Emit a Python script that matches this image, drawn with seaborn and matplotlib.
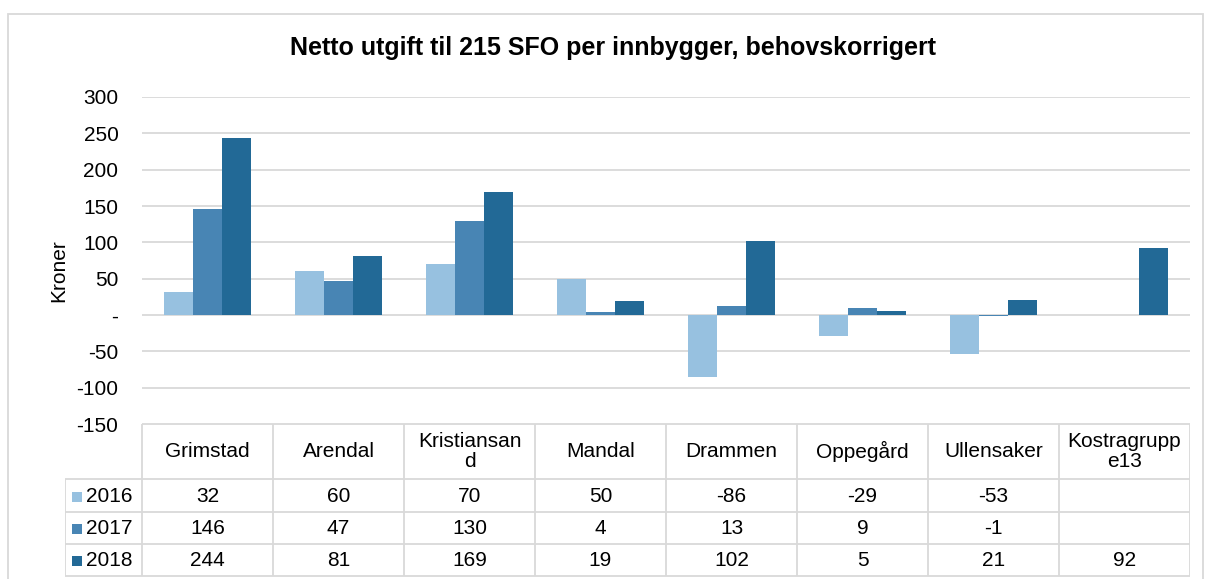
import numpy as np
import pandas as pd
import seaborn as sns
import matplotlib.pyplot as plt
from matplotlib.patches import Rectangle

# data
kommuner = ['Grimstad', 'Arendal', 'Kristiansand', 'Mandal', 'Drammen',
            'Oppegård', 'Ullensaker', 'Kostragruppe13']
kommune_labels = ['Grimstad', 'Arendal', 'Kristiansan\nd', 'Mandal', 'Drammen',
                  'Oppegård', 'Ullensaker', 'Kostragrupp\ne13']
years = ['2016', '2017', '2018']
v2016 = [32, 60, 70, 50, -86, -29, -53, np.nan]
v2017 = [146, 47, 130, 4, 13, 9, -1, np.nan]
v2018 = [244, 81, 169, 19, 102, 5, 21, 92]
yticks = [300, 250, 200, 150, 100, 50, 0, -50, -100, -150]

colors = ['#97C1E0', '#4885B4', '#226996']
grid_c = '#D9D9D9'

sns.set_style('white')
plt.rcParams['font.family'] = ['Liberation Sans', 'DejaVu Sans']
plt.rcParams['text.color'] = 'black'
plt.rcParams['axes.labelcolor'] = 'black'
plt.rcParams['ytick.color'] = 'black'

df = pd.DataFrame({
    'Kommune': kommuner * 3,
    'År': [y for y in years for _ in kommuner],
    'Kroner': v2016 + v2017 + v2018,
})

W, H = 1206, 579
fig = plt.figure(figsize=(W / 100, H / 100), dpi=100)

# outer chart border
fig.patches.append(Rectangle((8 / W, -0.05), 1195 / W, 1 - 14 / H + 0.05,
                             transform=fig.transFigure, fill=False,
                             edgecolor=grid_c, lw=1.3))

ax = fig.add_axes([142 / W, 1 - 424 / H, 1048 / W, 327 / H])
sns.barplot(data=df, x='Kommune', y='Kroner', hue='År', order=kommuner,
            hue_order=years, palette=colors, width=0.66, saturation=1,
            linewidth=0, legend=False, ax=ax, zorder=3)
ax.set_xlim(-0.5, len(kommuner) - 0.5)
ax.set_ylim(-150, 300)
ax.set_yticks(yticks)
ax.set_yticklabels([('-' if t == 0 else str(t)) for t in yticks], fontsize=15)
ax.tick_params(axis='y', length=0, pad=17)
ax.set_xticks([])
ax.set_xlabel('')
ax.set_ylabel('Kroner', fontsize=15)
ax.yaxis.set_label_coords(-74 / 1048, 0.47)
for s in ax.spines.values():
    s.set_visible(False)
ax.grid(axis='y', color=grid_c, lw=1.3, zorder=0)
ax.set_axisbelow(True)

fig.text(0.508, 1 - 48 / H, 'Netto utgift til 215 SFO per innbygger, behovskorrigert',
         ha='center', va='center', fontsize=18, fontweight='bold')

# data table under the chart
lab_w = 77 / 131
tx = fig.add_axes([65 / W, 1 - 578 / H, 1125 / W, 154 / H])
tx.set_xlim(-0.5 - lab_w, len(kommuner) - 0.5)
tx.set_ylim(154, 0)
tx.axis('off')
row_y = [0, 55, 88, 120, 152]
n = len(kommuner)
tx.hlines(row_y[0], -0.5, n - 0.5, color=grid_c, lw=1.3)
tx.hlines(row_y[1:], -0.5 - lab_w, n - 0.5, color=grid_c, lw=1.3)
tx.vlines([k - 0.5 for k in range(n + 1)], row_y[0], row_y[-1], color=grid_c, lw=1.3)
tx.vlines(-0.5 - lab_w, row_y[1], row_y[-1], color=grid_c, lw=1.3)

for i, lab in enumerate(kommune_labels):
    tx.text(i, (row_y[0] + row_y[1]) / 2, lab, ha='center', va='center',
            fontsize=15, linespacing=1.05)

for r, (yr, vals, c) in enumerate(zip(years, [v2016, v2017, v2018], colors)):
    yc = (row_y[r + 1] + row_y[r + 2]) / 2 + 1
    tx.add_patch(Rectangle((-0.5 - lab_w + 7 / 131, yc - 5), 10 / 131, 10,
                           color=c, lw=0))
    tx.text(-0.5 - lab_w + 21 / 131, yc, yr, ha='left', va='center', fontsize=15)
    for i, v in enumerate(vals):
        if not np.isnan(v):
            tx.text(i, yc, f'{int(v)}', ha='center', va='center', fontsize=15)

fig.savefig('out.png', dpi=100)
